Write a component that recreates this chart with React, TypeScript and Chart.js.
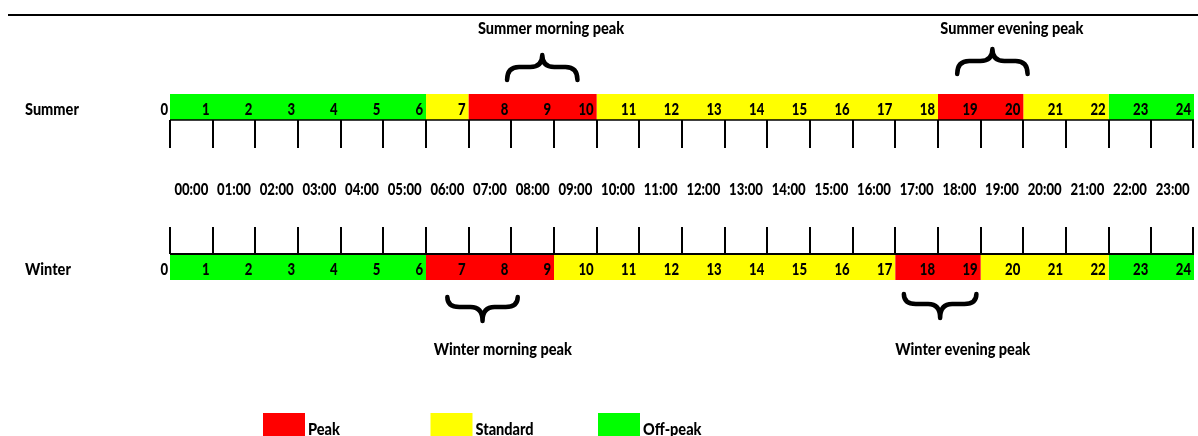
import { useEffect, useRef } from 'react';
import { Chart, registerables } from 'chart.js';

Chart.register(...registerables);

// ---- data ----
const seasons = ['Summer', 'Winter'];
const hourLabels = ['0', '1', '2', '3', '4', '5', '6', '7', '8', '9', '10', '11', '12', '13', '14', '15', '16', '17', '18', '19', '20', '21', '22', '23', '24'];
const timeLabels = ['00:00', '01:00', '02:00', '03:00', '04:00', '05:00', '06:00', '07:00', '08:00', '09:00', '10:00', '11:00', '12:00', '13:00', '14:00', '15:00', '16:00', '17:00', '18:00', '19:00', '20:00', '21:00', '22:00', '23:00'];
const tariffNames = ['Peak', 'Standard', 'Off-peak'];
const tariffColors = ['#FF0000', '#FFFF00', '#00FF00'];
const summerBounds = [0, 6, 7, 10, 18, 20, 22, 24];
const summerTariffs = ['Off-peak', 'Standard', 'Peak', 'Standard', 'Peak', 'Standard', 'Off-peak'];
const winterBounds = [0, 6, 9, 17, 19, 22, 24];
const winterTariffs = ['Off-peak', 'Peak', 'Standard', 'Peak', 'Standard', 'Off-peak'];
const peakNotes = ['Summer morning peak', 'Summer evening peak', 'Winter morning peak', 'Winter evening peak'];
const peakNoteSeason = ['Summer', 'Summer', 'Winter', 'Winter'];
const braceFrom = [7.9, 18.45, 6.5, 17.2];
const braceTo = [9.55, 20.1, 8.15, 18.9];
const noteCenter = [8.93, 19.73, 7.8, 18.58];

const NUM_FONT = '900 16px Lato, "Liberation Sans", sans-serif';
const WORD_FONT = '900 16.5px Lato, "Liberation Sans", sans-serif';
const SX_NUM = 0.82;
const SX_WORD = 0.88;

function buildDatasets() {
  return tariffNames.map((name, ti) => {
    const data: { x: [number, number]; y: string }[] = [];
    summerTariffs.forEach((t, i) => {
      if (t === name) data.push({ y: 'Summer', x: [summerBounds[i], summerBounds[i + 1]] });
    });
    winterTariffs.forEach((t, i) => {
      if (t === name) data.push({ y: 'Winter', x: [winterBounds[i], winterBounds[i + 1]] });
    });
    return {
      label: name,
      data,
      backgroundColor: tariffColors[ti],
      borderWidth: 0,
      grouped: false,
      maxBarThickness: 26,
      barPercentage: 0.1625,
      categoryPercentage: 1,
    };
  });
}

function drawText(ctx: CanvasRenderingContext2D, s: string, x: number, y: number, align: CanvasTextAlign, word: boolean) {
  ctx.save();
  ctx.font = word ? WORD_FONT : NUM_FONT;
  ctx.translate(x, y);
  ctx.scale(word ? SX_WORD : SX_NUM, 1);
  ctx.textAlign = align;
  ctx.textBaseline = 'alphabetic';
  ctx.fillText(s, 0, 0);
  ctx.restore();
}

function drawBrace(ctx: CanvasRenderingContext2D, x1: number, x2: number, yEnd: number, yArm: number, yTip: number) {
  const xm = (x1 + x2) / 2;
  const r = Math.min((x2 - x1) / 5, 12);
  ctx.beginPath();
  ctx.moveTo(x1, yEnd);
  ctx.quadraticCurveTo(x1, yArm, x1 + r, yArm);
  ctx.lineTo(xm - r, yArm);
  ctx.quadraticCurveTo(xm, yArm, xm, yTip);
  ctx.quadraticCurveTo(xm, yArm, xm + r, yArm);
  ctx.lineTo(x2 - r, yArm);
  ctx.quadraticCurveTo(x2, yArm, x2, yEnd);
  ctx.stroke();
}

const decorPlugin = {
  id: 'tariffDecor',
  afterDatasetsDraw(chart: any) {
    const ctx: CanvasRenderingContext2D = chart.ctx;
    const xs = chart.scales.x;
    const ys = chart.scales.y;
    const px = (h: number) => xs.getPixelForValue(h);
    const half = 13;
    ctx.save();
    ctx.fillStyle = '#000';
    ctx.strokeStyle = '#000';

    // top rule
    ctx.lineWidth = 2;
    ctx.beginPath();
    ctx.moveTo(8, 15);
    ctx.lineTo(chart.width, 15);
    ctx.stroke();

    const ySummer = ys.getPixelForValue(0);
    const yWinter = ys.getPixelForValue(1);

    seasons.forEach((s, si) => {
      const yc = ys.getPixelForValue(si);
      const down = si === 0;
      const edge = down ? yc + half : yc - half;
      ctx.lineWidth = down ? 1.5 : 2;
      ctx.beginPath();
      ctx.moveTo(px(0), edge);
      ctx.lineTo(px(24), edge);
      ctx.stroke();
      ctx.lineWidth = 2;
      for (let h = 0; h < hourLabels.length; h++) {
        const x = Math.round(px(h)) - (h === 24 ? 1 : 0);
        ctx.beginPath();
        if (down) {
          ctx.moveTo(x, edge);
          ctx.lineTo(x, edge + 28);
        } else {
          ctx.moveTo(x, edge - 27);
          ctx.lineTo(x, edge);
        }
        ctx.stroke();
      }
      hourLabels.forEach((lab, h) => {
        const x = h === 0 ? px(0) - 2 : px(h) - 3;
        drawText(ctx, lab, x, yc + 8, 'right', false);
      });
      drawText(ctx, s, 25, yc + 8, 'left', true);
    });

    const yMid = (ySummer + yWinter) / 2 + 8;
    timeLabels.forEach((t, h) => {
      drawText(ctx, t, (px(h) + px(h + 1)) / 2, yMid, 'center', false);
    });

    ctx.lineWidth = 4.5;
    ctx.lineCap = 'round';
    ctx.lineJoin = 'round';
    peakNotes.forEach((note, i) => {
      const si = seasons.indexOf(peakNoteSeason[i]);
      const yc = ys.getPixelForValue(si);
      const x1 = px(braceFrom[i]);
      const x2 = px(braceTo[i]);
      if (si === 0) {
        const off = i === 0 ? 0 : -6;
        drawBrace(ctx, x1, x2, yc - 27 + off, yc - 40 + off, yc - 52 + off);
        drawText(ctx, note, px(noteCenter[i]), 34, 'center', true);
      } else {
        const off = i === 2 ? 0 : -3;
        drawBrace(ctx, x1, x2, yc + 30 + off, yc + 40 + off, yc + 54 + off);
        drawText(ctx, note, px(noteCenter[i]), 355, 'center', true);
      }
    });

    tariffNames.forEach((name, i) => {
      const bx = 263 + i * 167.5;
      ctx.fillStyle = tariffColors[i];
      ctx.fillRect(bx, 413, 42, 26);
      ctx.fillStyle = '#000';
      drawText(ctx, name, bx + 45, 435, 'left', true);
    });

    ctx.restore();
  },
};

export default function App() {
  const ref = useRef<HTMLCanvasElement | null>(null);
  useEffect(() => {
    if (!ref.current) return;
    const chart = new Chart(ref.current, {
      type: 'bar',
      data: { labels: seasons, datasets: buildDatasets() as any },
      options: {
        indexAxis: 'y',
        animation: false,
        responsive: false,
        layout: { padding: { left: 170, right: 4, top: 27, bottom: 89 } },
        scales: {
          x: { type: 'linear', min: 0, max: 24, display: false },
          y: { type: 'category', display: false, offset: true },
        },
        plugins: { legend: { display: false }, tooltip: { enabled: false } },
      },
      plugins: [decorPlugin],
    });
    return () => chart.destroy();
  }, []);
  return (
    <div style={{ position: 'absolute', left: 0, top: 0, width: 1198, height: 436, background: '#fff' }}>
      <canvas ref={ref} width={1198} height={436} />
    </div>
  );
}
